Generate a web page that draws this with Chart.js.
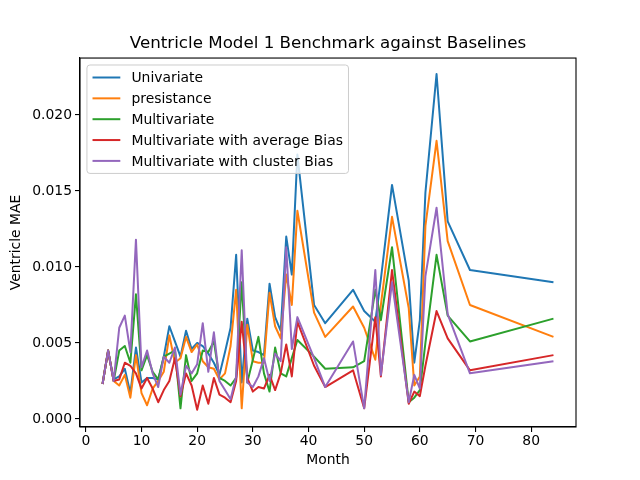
<!DOCTYPE html>
<html>
<head>
<meta charset="utf-8">
<script src="https://cdn.jsdelivr.net/npm/chart.js@4.4.0/dist/chart.umd.min.js"></script>
<style>
html, body { margin: 0; padding: 0; background: #fff; }
#wrap { width: 640px; height: 480px; }
</style>
</head>
<body>
<div id="wrap"><canvas id="maeChart" width="640" height="480"></canvas></div>
<script>
var months = [3, 4, 5, 6, 7, 8, 9, 10, 11, 12, 13, 14, 15, 16, 17, 18, 19, 20,
    21, 22, 23, 24, 25, 26, 27, 28, 29, 30, 31, 32, 33, 34, 35, 36, 37, 38,
    41, 43, 48, 50, 52, 53, 55, 58, 59, 60, 61, 63, 65, 69, 84];

var univariate = [0.0023, 0.0045, 0.0026, 0.0028, 0.0033, 0.0017, 0.0047, 0.0024, 0.0027, 0.0027,
    0.0026, 0.0041, 0.0061, 0.0051, 0.0041, 0.0058, 0.0046, 0.0050, 0.0048, 0.0043,
    0.0037, 0.0029, 0.0044, 0.0060, 0.0108, 0.0024, 0.0066, 0.0045, 0.0044, 0.0042,
    0.0089, 0.0067, 0.0058, 0.0120, 0.0095, 0.0174,
    0.0075, 0.0063, 0.0085, 0.0071, 0.0064, 0.0092, 0.0154, 0.0091, 0.0037, 0.0065,
    0.0149, 0.0227, 0.0130, 0.0098, 0.0090];

var presistance = [0.0023, 0.0045, 0.0025, 0.0022, 0.0029, 0.0014, 0.0042, 0.0017, 0.0009, 0.0020,
    0.0025, 0.0031, 0.0055, 0.0037, 0.0040, 0.0054, 0.0044, 0.0049, 0.0038, 0.0034,
    0.0033, 0.0026, 0.0030, 0.0048, 0.0085, 0.0007, 0.0062, 0.0038, 0.0037, 0.0037,
    0.0083, 0.0061, 0.0053, 0.0095, 0.0075, 0.0137,
    0.0070, 0.0054, 0.0074, 0.0060, 0.0039, 0.0075, 0.0133, 0.0073, 0.0022, 0.0028,
    0.0127, 0.0183, 0.0117, 0.0075, 0.0054];

var multivariate = [0.0023, 0.0045, 0.0025, 0.0045, 0.0048, 0.0037, 0.0082, 0.0032, 0.0042, 0.0031,
    0.0026, 0.0041, 0.0043, 0.0045, 0.0007, 0.0042, 0.0025, 0.0030, 0.0045, 0.0044,
    0.0051, 0.0027, 0.0025, 0.0022, 0.0027, 0.0090, 0.0024, 0.0039, 0.0054, 0.0030,
    0.0018, 0.0047, 0.0030, 0.0028, 0.0040, 0.0052,
    0.0041, 0.0033, 0.0034, 0.0038, 0.0085, 0.0065, 0.0113, 0.0011, 0.0014, 0.0019,
    0.0050, 0.0108, 0.0068, 0.0051, 0.0066];

var avgBias = [0.0023, 0.0045, 0.0025, 0.0026, 0.0037, 0.0035, 0.0030, 0.0020, 0.0027, 0.0020,
    0.0011, 0.0019, 0.0025, 0.0040, 0.0015, 0.0030, 0.0022, 0.0006, 0.0022, 0.0010,
    0.0027, 0.0016, 0.0014, 0.0011, 0.0025, 0.0064, 0.0027, 0.0018, 0.0021, 0.0020,
    0.0029, 0.0019, 0.0030, 0.0049, 0.0028, 0.0064,
    0.0035, 0.0021, 0.0032, 0.0007, 0.0067, 0.0028, 0.0098, 0.0010, 0.0018, 0.0015,
    0.0035, 0.0071, 0.0053, 0.0032, 0.0042];

var clusterBias = [0.0023, 0.0045, 0.0025, 0.0060, 0.0068, 0.0044, 0.0118, 0.0034, 0.0045, 0.0030,
    0.0021, 0.0041, 0.0037, 0.0047, 0.0016, 0.0035, 0.0030, 0.0036, 0.0063, 0.0031,
    0.0057, 0.0025, 0.0019, 0.0013, 0.0028, 0.0111, 0.0024, 0.0021, 0.0028, 0.0040,
    0.0025, 0.0043, 0.0038, 0.0113, 0.0046, 0.0067,
    0.0040, 0.0021, 0.0051, 0.0007, 0.0098, 0.0029, 0.0090, 0.0011, 0.0029, 0.0020,
    0.0094, 0.0139, 0.0069, 0.0030, 0.0038];

var seriesNames = ['Univariate', 'presistance', 'Multivariate',
    'Multivariate with average Bias', 'Multivariate with cluster Bias'];
var seriesColors = ['#1f77b4', '#ff7f0e', '#2ca02c', '#d62728', '#9467bd'];
var xTicks = [0, 10, 20, 30, 40, 50, 60, 70, 80];
var yTicks = [0.000, 0.005, 0.010, 0.015, 0.020];

Chart.defaults.font.family = "'DejaVu Sans', sans-serif";
Chart.defaults.color = '#000';

function toPoints(values) {
    return months.map(function (m, i) { return { x: m, y: values[i] }; });
}

var allSeries = [univariate, presistance, multivariate, avgBias, clusterBias];
var datasets = allSeries.map(function (vals, i) {
    return {
        label: seriesNames[i],
        data: toPoints(vals),
        borderColor: seriesColors[i],
        backgroundColor: seriesColors[i],
        borderWidth: 2,
        borderJoinStyle: 'round',
        pointRadius: 0,
        tension: 0,
        fill: false,
        order: allSeries.length - i
    };
});

// box around the plot + legend inside the plot, like matplotlib
var frameAndLegend = {
    id: 'frameAndLegend',
    afterDraw: function (chart) {
        var ctx = chart.ctx;
        var a = chart.chartArea;
        ctx.save();
        ctx.strokeStyle = '#000';
        ctx.lineWidth = 1.1;
        ctx.strokeRect(a.left, a.top, a.right - a.left, a.bottom - a.top);

        var fs = 13.9;
        ctx.font = fs + "px 'DejaVu Sans'";
        var sets = chart.data.datasets;
        var maxw = 0;
        sets.forEach(function (d) { maxw = Math.max(maxw, ctx.measureText(d.label).width); });
        var pad = 0.4 * fs, handle = 2 * fs, gap = 0.8 * fs, rowH = fs * 1.5;
        var bx = a.left + 0.5 * fs, by = a.top + 0.5 * fs;
        var bw = pad * 2 + handle + gap + maxw;
        var bh = pad * 2 + sets.length * fs + (sets.length - 1) * 0.5 * fs;
        ctx.beginPath();
        ctx.roundRect(bx, by, bw, bh, 3);
        ctx.fillStyle = 'rgba(255,255,255,0.8)';
        ctx.fill();
        ctx.strokeStyle = '#cccccc';
        ctx.lineWidth = 1;
        ctx.stroke();
        ctx.textBaseline = 'middle';
        ctx.textAlign = 'left';
        sets.forEach(function (d, i) {
            var cy = by + pad + fs / 2 + i * rowH;
            ctx.strokeStyle = d.borderColor;
            ctx.lineWidth = 2;
            ctx.beginPath();
            ctx.moveTo(bx + pad, cy);
            ctx.lineTo(bx + pad + handle, cy);
            ctx.stroke();
            ctx.fillStyle = '#000';
            ctx.fillText(d.label, bx + pad + handle + gap, cy + 1);
        });
        ctx.restore();
    }
};

var ctx = document.getElementById('maeChart').getContext('2d');
var maeChart = new Chart(ctx, {
    type: 'line',
    data: { datasets: datasets },
    options: {
        responsive: false,
        animation: false,
        events: [],
        layout: { padding: { left: 0, right: 64, top: 0, bottom: 0 } },
        plugins: {
            legend: { display: false },
            tooltip: { enabled: false },
            title: {
                display: true,
                text: 'Ventricle Model 1 Benchmark against Baselines',
                fullSize: false,
                font: { size: 16.7, weight: 'normal' },
                color: '#000',
                padding: { top: 34, bottom: 4 }
            }
        },
        scales: {
            x: {
                type: 'linear',
                min: -1.05,
                max: 88.05,
                afterFit: function (scale) { scale.height = 53; },
                afterBuildTicks: function (scale) {
                    scale.ticks = xTicks.map(function (v) { return { value: v }; });
                },
                ticks: { font: { size: 13.9 }, color: '#000', padding: 1, maxRotation: 0 },
                grid: { display: true, drawOnChartArea: false, drawTicks: true, tickLength: 5, color: '#000', lineWidth: 1.1 },
                border: { display: true, color: '#000', width: 1.1 },
                title: { display: true, text: 'Month', font: { size: 13.9 }, color: '#000', padding: { top: 0, bottom: 11 } }
            },
            y: {
                type: 'linear',
                min: -0.00053,
                max: 0.02375,
                afterFit: function (scale) { scale.width = 80; },
                afterBuildTicks: function (scale) {
                    scale.ticks = yTicks.map(function (v) { return { value: v }; });
                },
                ticks: {
                    font: { size: 13.9 }, color: '#000', padding: 3,
                    callback: function (v) { return Number(v).toFixed(3); }
                },
                grid: { display: true, drawOnChartArea: false, drawTicks: true, tickLength: 5, color: '#000', lineWidth: 1.1 },
                border: { display: true, color: '#000', width: 1.1 },
                title: { display: true, text: 'Ventricle MAE', font: { size: 13.9 }, color: '#000', padding: { top: 8, bottom: 0 } }
            }
        }
    },
    plugins: [frameAndLegend]
});
</script>
</body>
</html>
